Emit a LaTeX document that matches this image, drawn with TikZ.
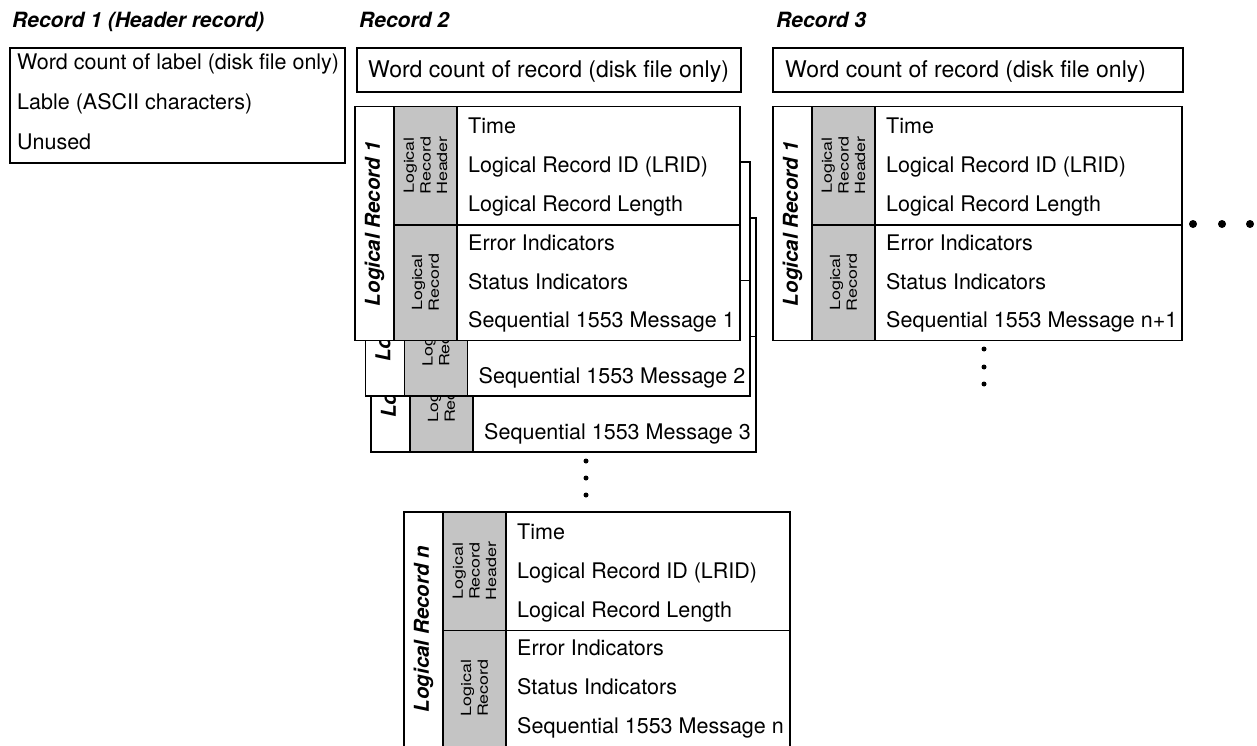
\documentclass[tikz,border=0pt]{standalone}
\usepackage{fontspec}
\setmainfont{TeX Gyre Heros}
\tikzset{
  box/.style={draw=black, line width=1.8pt, fill=white},
  shadecol/.style={draw=black, line width=1.8pt, fill=black!23},
  divline/.style={draw=black, line width=1.8pt},
  txt/.style={anchor=base west, inner sep=0pt, font=\fontsize{21.5}{25}\selectfont},
  txtbig/.style={anchor=base west, inner sep=0pt, font=\fontsize{23}{27}\selectfont},
  ttl/.style={anchor=base west, inner sep=0pt, font=\fontsize{21}{25}\selectfont\bfseries\itshape},
  vlab/.style={rotate=90, inner sep=0pt, font=\fontsize{20.5}{24}\selectfont\bfseries\itshape},
  slab/.style={rotate=90, xscale=1.28, inner sep=0pt, align=center, font=\fontsize{14}{16.7}\selectfont},
  dotbig/.style={fill=black, circle, inner sep=0pt, minimum size=8pt},
  dotsmall/.style={fill=black, circle, inner sep=0pt, minimum size=5pt},
}
\def\lrh{234}
% base of a logical record: box, columns, labels, last message
\newcommand\logbase[6]{%
  \begin{scope}[shift={(#2,#3)}]
    \draw[box] (0,0) rectangle (#4,\lrh);
    \draw[shadecol] (39,0) rectangle (102,\lrh);
    \draw[divline] (39,118.5) -- (#4,118.5);
    \node[vlab] (#1-lab) at (19.5,117) {#5};
    \node[slab] (#1-hdr) at (70.5,59) {Logical\\Record\\Header};
    \node[slab] (#1-rec) at (70.5,176) {Logical\\Record};
    \node[txt] (#1-r6) at (113,221.3) {#6};
  \end{scope}}
\newcommand\logrows[3]{%
  \begin{scope}[shift={(#2,#3)}]
    \node[txt] (#1-r1) at (113,27.5) {Time};
    \node[txt] (#1-r2) at (113,66.3) {Logical Record ID (LRID)};
    \node[txt] (#1-r3) at (113,105) {Logical Record Length};
    \node[txt] (#1-r4) at (113,143.8) {Error Indicators};
    \node[txt] (#1-r5) at (113,182.5) {Status Indicators};
  \end{scope}}
\begin{document}
\begin{tikzpicture}[x=1pt,y=-1pt]
  \useasboundingbox (0,0) rectangle (1257,746);
  \clip (0,0) rectangle (1257,746);
  \fill[white] (0,0) rectangle (1257,746);

  % titles
  \node[ttl] (t1) at (12,28) {Record 1 (Header record)};
  \node[ttl] (t2) at (359,28) {Record 2};
  \node[ttl] (t3) at (776,28) {Record 3};

  % Record 1 (header record)
  \draw[box] (10,48) rectangle (345,163);
  \node[txt] (h1) at (17,70) {Word count of label (disk file only)};
  \node[txt] (h2) at (17,110) {Lable (ASCII characters)};
  \node[txt] (h3) at (17,150) {Unused};

  % Record 2 word count
  \draw[box] (357,48) rectangle (741,92);
  \node[txtbig] (w2) at (368,77.5) {Word count of record (disk file only)};

  % Record 3 word count
  \draw[box] (773,48) rectangle (1183,92);
  \node[txtbig] (w3) at (785,77.5) {Word count of record (disk file only)};

  % Record 2 stack (back to front)
  \logbase{s3}{371}{218}{385}{Logical Record 3}{Sequential 1553 Message 3}
  \logbase{s2}{365.5}{162}{384.5}{Logical Record 2}{Sequential 1553 Message 2}
  \logbase{s1}{355}{106.5}{385}{Logical Record 1}{Sequential 1553 Message 1}
  \logrows{s1}{355}{106.5}

  % Record 3 logical record
  \logbase{q1}{773}{106.5}{409}{Logical Record 1}{Sequential 1553 Message n+1}
  \logrows{q1}{773}{106.5}

  % Logical record n
  \def\lrh{250}
  \logbase{sn}{404}{512}{386}{Logical Record n}{Sequential 1553 Message n}
  \logrows{sn}{404}{512}

  % dots
  \node[dotbig] (d1) at (1193,224) {};
  \node[dotbig] (d2) at (1222,224) {};
  \node[dotbig] (d3) at (1250,224) {};
  \node[dotsmall] (v1) at (984,349) {};
  \node[dotsmall] (v2) at (984,367) {};
  \node[dotsmall] (v3) at (984,384) {};
  \node[dotsmall] (u1) at (586,461) {};
  \node[dotsmall] (u2) at (586,478) {};
  \node[dotsmall] (u3) at (586,495) {};
\end{tikzpicture}
\end{document}
